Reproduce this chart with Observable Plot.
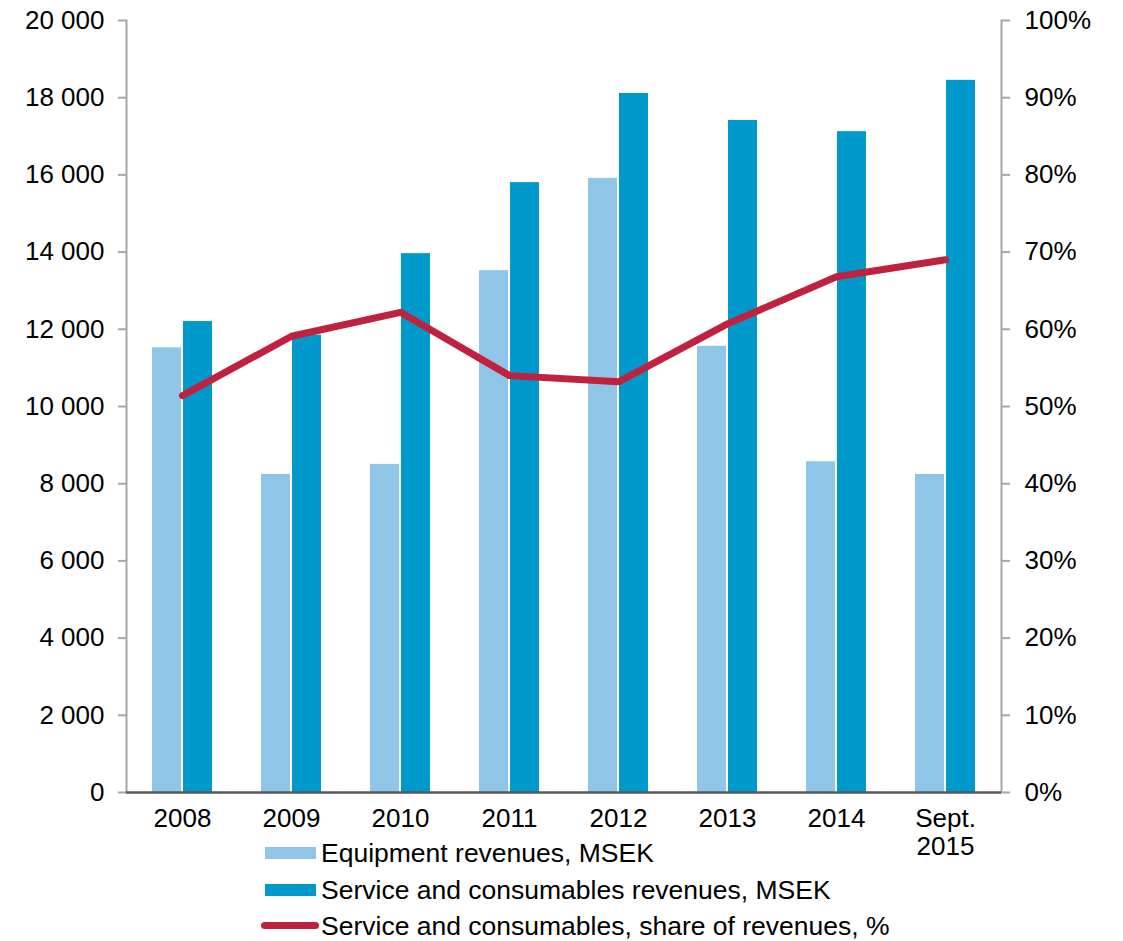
<!DOCTYPE html>
<html>
<head>
<meta charset="utf-8">
<script src="https://cdn.jsdelivr.net/npm/d3@7"></script>
<script src="https://cdn.jsdelivr.net/npm/@observablehq/plot@0.6"></script>
<style>
  body { margin: 0; background: #fff; font-family: "Liberation Sans", Arial, sans-serif; }
  #wrap { position: relative; width: 1123px; height: 941px; overflow: hidden; }
  #chart svg { overflow: visible; }
  #legend { position: absolute; left: 0; top: 0; font-size: 26.5px; color: #000; }
  .row { position: absolute; white-space: nowrap; height: 30px; }
  .sw { position: absolute; }
  .lbl { position: absolute; top: 0; line-height: 30px; }
</style>
</head>
<body>
<div id="wrap">
  <div id="chart"></div>
  <div id="legend"></div>
</div>
<script>
const categories = ["2008", "2009", "2010", "2011", "2012", "2013", "2014", "Sept. 2015"];
const equipmentRevenues = [11520, 8240, 8500, 13520, 15910, 11560, 8570, 8240];
const serviceRevenues = [12200, 11850, 13960, 15800, 18110, 17410, 17120, 18450];
const serviceShare = [51.4, 59.1, 62.2, 54.0, 53.2, 60.7, 66.8, 69.0];
const leftTicks = [0, 2000, 4000, 6000, 8000, 10000, 12000, 14000, 16000, 18000, 20000];
const seriesNames = ["Equipment revenues, MSEK", "Service and consumables revenues, MSEK", "Service and consumables, share of revenues, %"];
const colors = ["#8fc6e7", "#0099cc", "#c0213f"];

const data = categories.map((c, i) => ({
  year: c, equip: equipmentRevenues[i], service: serviceRevenues[i], share: serviceShare[i]
}));
// share plotted on the same y scale: 100% -> 20 000
const shareToY = s => s * 200;

const fmtThousands = d => d3.format(",")(d).replace(/,/g, " ");

const chart = Plot.plot({
  width: 1123,
  height: 835,
  marginTop: 20,
  marginBottom: 43,
  marginLeft: 126,
  marginRight: 122,
  style: { fontSize: "26px", fontFamily: "Liberation Sans, Arial, sans-serif", color: "#000", background: "#fff" },
  x: { type: "band", domain: categories, paddingInner: 0.4516, paddingOuter: 0.2258 },
  y: { domain: [0, 20000] },
  marks: [
    Plot.barY(data, { x: "year", y: "equip", fill: colors[0], insetRight: 31 }),
    Plot.barY(data, { x: "year", y: "service", fill: colors[1], insetLeft: 31 }),
    Plot.frame({ anchor: "left", stroke: "#a6a6a6", strokeWidth: 2 }),
    Plot.frame({ anchor: "right", stroke: "#a6a6a6", strokeWidth: 2 }),
    Plot.ruleY([0], { stroke: "#595959", strokeWidth: 2.5 }),
    Plot.line(data, { x: "year", y: d => shareToY(d.share), stroke: colors[2], strokeWidth: 7, strokeLinecap: "round", strokeLinejoin: "round" }),
    Plot.axisY({ anchor: "left", ticks: leftTicks, tickSize: 8, tickPadding: 14, stroke: "#a6a6a6", strokeWidth: 2, tickFormat: fmtThousands, label: null }),
    Plot.axisY({ anchor: "right", ticks: leftTicks, tickSize: 8, tickPadding: 15, stroke: "#a6a6a6", strokeWidth: 2, tickFormat: d => (d / 200) + "%", label: null }),
    Plot.axisX({ anchor: "bottom", tickSize: 0, tickPadding: 14, tickFormat: d => d.replace(" ", "\n"), label: null, lineHeight: 1.1 })
  ]
});
document.getElementById("chart").appendChild(chart);

// Legend (HTML, overlapping the area under the axis like the reference)
const legend = document.getElementById("legend");
const rowsTop = [838, 875, 911];
seriesNames.forEach((name, i) => {
  const row = document.createElement("div");
  row.className = "row";
  row.style.top = rowsTop[i] + "px";
  row.style.left = "0px";
  const sw = document.createElement("div");
  sw.className = "sw";
  if (i < 2) {
    sw.style.left = "265px"; sw.style.top = "9px"; sw.style.width = "51px"; sw.style.height = "12px";
    sw.style.background = colors[i];
  } else {
    sw.style.left = "261px"; sw.style.top = "11px"; sw.style.width = "58px"; sw.style.height = "7px";
    sw.style.background = colors[i]; sw.style.borderRadius = "4px";
  }
  const lbl = document.createElement("div");
  lbl.className = "lbl";
  lbl.style.left = "321px";
  lbl.textContent = name;
  row.appendChild(sw);
  row.appendChild(lbl);
  legend.appendChild(row);
});
</script>
</body>
</html>
